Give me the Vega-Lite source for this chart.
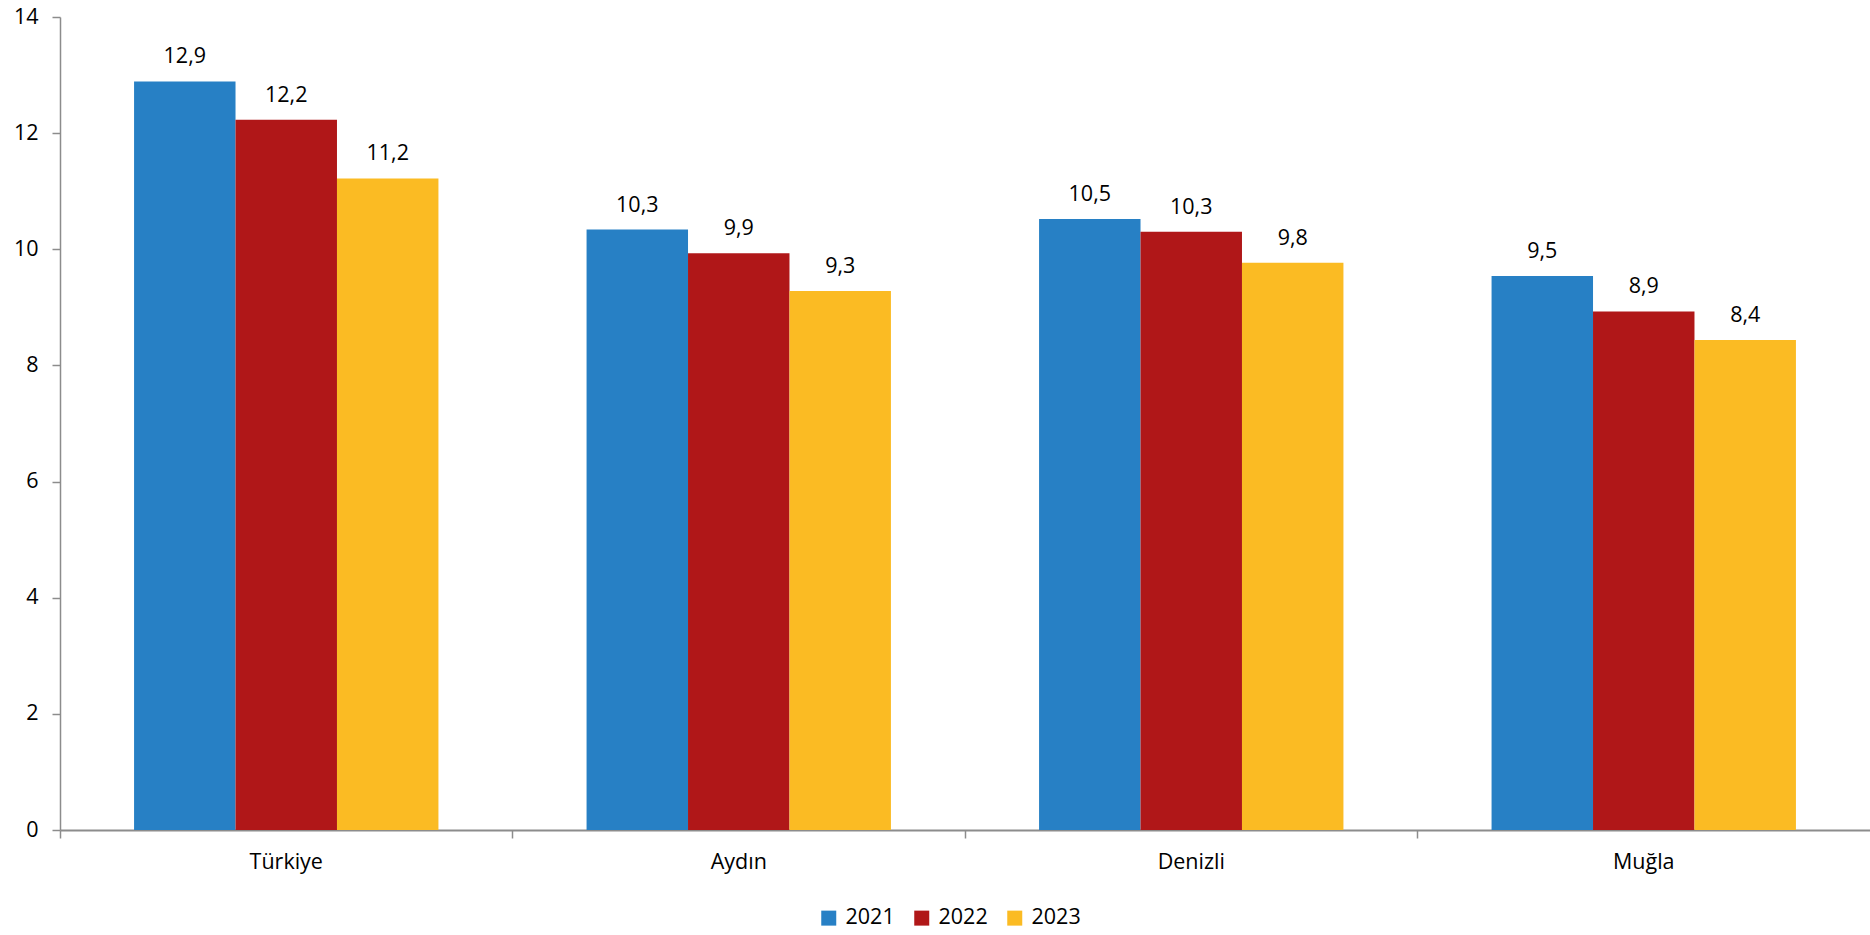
{
  "$schema": "https://vega.github.io/schema/vega-lite/v6.json",
  "width": 1810,
  "height": 813,
  "autosize": {"type": "none"},
  "padding": {"left": 60, "top": 17, "right": 0, "bottom": 105},
  "background": "white",
  "config": {
    "locale": {"number": {"decimal": ",", "thousands": ".", "grouping": [3], "currency": ["", " ₺"]}},
    "font": "Open Sans",
    "view": {"stroke": null}
  },
  "data": {
    "values": [
      {"region": "Türkiye", "year": "2021", "value": 12.89},
      {"region": "Türkiye", "year": "2022", "value": 12.23},
      {"region": "Türkiye", "year": "2023", "value": 11.22},
      {"region": "Aydın", "year": "2021", "value": 10.34},
      {"region": "Aydın", "year": "2022", "value": 9.93},
      {"region": "Aydın", "year": "2023", "value": 9.28},
      {"region": "Denizli", "year": "2021", "value": 10.52},
      {"region": "Denizli", "year": "2022", "value": 10.30},
      {"region": "Denizli", "year": "2023", "value": 9.77},
      {"region": "Muğla", "year": "2021", "value": 9.54},
      {"region": "Muğla", "year": "2022", "value": 8.93},
      {"region": "Muğla", "year": "2023", "value": 8.44}
    ]
  },
  "encoding": {
    "x": {
      "field": "region", "type": "nominal", "sort": null,
      "scale": {"paddingInner": 0, "paddingOuter": 0},
      "axis": {
        "title": null, "labelAngle": 0, "labelFontSize": 21.5, "labelColor": "#000000",
        "domainColor": "#8c8c8c", "domainWidth": 2, "tickColor": "#8c8c8c", "tickWidth": 1.5,
        "tickSize": 8, "bandPosition": 0, "labelPadding": 13, "grid": false
      }
    },
    "xOffset": {"field": "year", "type": "nominal", "scale": {"paddingInner": 0, "paddingOuter": 0.73}},
    "y": {
      "field": "value", "type": "quantitative",
      "scale": {"domain": [0, 14], "nice": false},
      "axis": {
        "title": null, "values": [0, 2, 4, 6, 8, 10, 12, 14], "format": "d", "grid": false,
        "labelFontSize": 21.5, "labelColor": "#000000", "domainColor": "#8c8c8c", "domainWidth": 1.5,
        "tickColor": "#8c8c8c", "tickWidth": 1.5, "tickSize": 8, "labelPadding": 14
      }
    }
  },
  "layer": [
    {
      "mark": {"type": "bar"},
      "encoding": {
        "color": {
          "field": "year", "type": "nominal",
          "scale": {"domain": ["2021", "2022", "2023"], "range": ["#2780C5", "#B01718", "#FBBB23"]},
          "legend": {
            "title": null, "orient": "none", "direction": "horizontal",
            "legendX": 758, "legendY": 890, "padding": 0,
            "symbolType": "square", "symbolSize": 225, "symbolStrokeWidth": 0,
            "labelFontSize": 21.5, "labelColor": "#000000", "labelOffset": 6, "columnPadding": 16
          }
        }
      }
    },
    {
      "mark": {"type": "text", "baseline": "bottom", "dy": -13, "fontSize": 21.5, "color": "#000000"},
      "encoding": {"text": {"field": "value", "type": "quantitative", "format": ".1f"}}
    }
  ]
}
